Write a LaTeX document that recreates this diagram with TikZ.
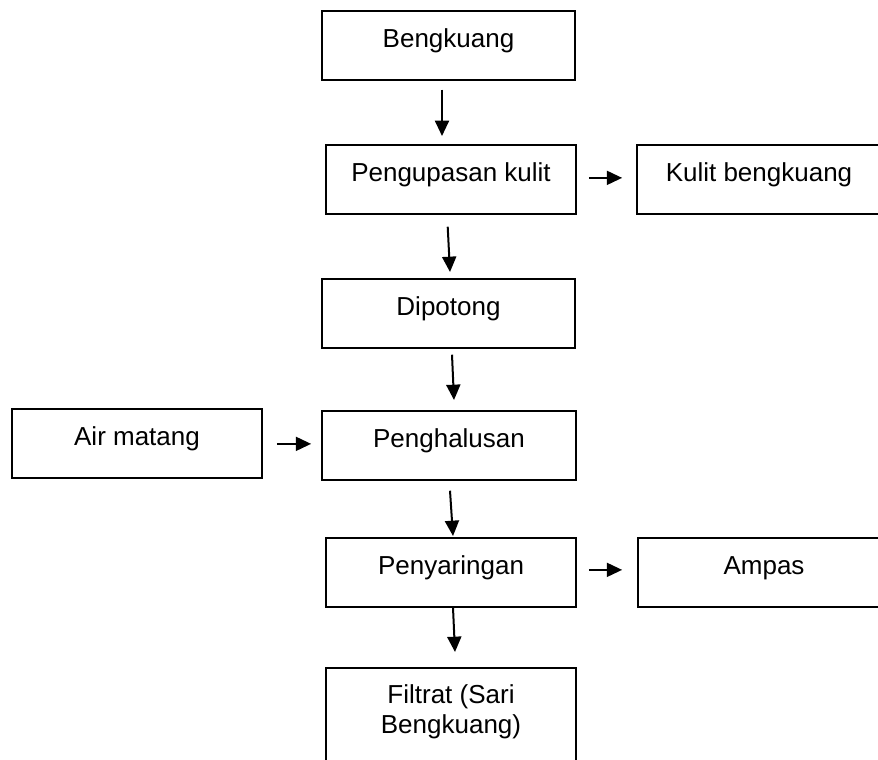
\documentclass[tikz,border=0pt]{standalone}
\usepackage{fontspec}
\setmainfont{Liberation Sans}
\usetikzlibrary{arrows.meta,calc}
\begin{document}
\begin{tikzpicture}[x=0.75pt,y=-0.75pt,
  box/.style={draw, line width=1.3pt, inner xsep=0pt, inner ysep=0pt,
    font=\fontsize{19.5pt}{22.5pt}\selectfont, text height=27.75pt, text depth=24pt, anchor=north},
  arr/.style={line width=1.5pt, -{Triangle[length=11.5pt,width=10.5pt]}},
  txt/.style={font=\fontsize{19.5pt}{22.5pt}\selectfont, inner sep=0pt, align=center}]
\useasboundingbox (0,0) rectangle (878,760);
\clip (0,0) rectangle (878,760);

\node[box, minimum width=189.75pt] (b1) at (448.5,10) {Bengkuang};
\node[box, minimum width=187.5pt] (b2) at (451,144) {Pengupasan kulit};
\node[box, minimum width=183pt] (k) at (759,144) {Kulit bengkuang};
\node[box, minimum width=189.75pt] (b3) at (448.5,278) {Dipotong};
\node[box, minimum width=187.5pt] (air) at (137,408) {Air matang};
\node[box, minimum width=190.5pt] (b4) at (449,410) {Penghalusan};
\node[box, minimum width=187.5pt] (b5) at (451,537) {Penyaringan};
\node[box, minimum width=189pt] (amp) at (764,537) {Ampas};
\node[box, minimum width=187.5pt, minimum height=105pt] (b6) at (451,667) {};
\node[txt, anchor=north] (b6t) at (451,684) {Filtrat (Sari\\Bengkuang)};

\draw[arr] ($(b1.south)+(-6.5,9)$) -- ($(b2.north)+(-9,-8)$);
\draw[arr] ($(b2.south)+(-3.3,12)$) -- ($(b3.north)+(1.5,-6)$);
\draw[arr] ($(b3.south)+(3.5,6)$) -- ($(b4.north)+(5,-10)$);
\draw[arr] ($(b4.south)+(1,10)$) -- ($(b5.north)+(2,-1)$);
\draw[arr] ($(b5.south)+(2,0)$) -- ($(b6.north)+(4,-15)$);

\draw[arr] ($(b2.east)+(12,-1.5)$) -- ($(k.west)+(-14,-1.5)$);
\draw[arr] ($(air.east)+(14,0.5)$) -- ($(b4.west)+(-10,-1.5)$);
\draw[arr] ($(b5.east)+(12,-2.5)$) -- ($(amp.west)+(-15,-2.5)$);
\end{tikzpicture}
\end{document}
